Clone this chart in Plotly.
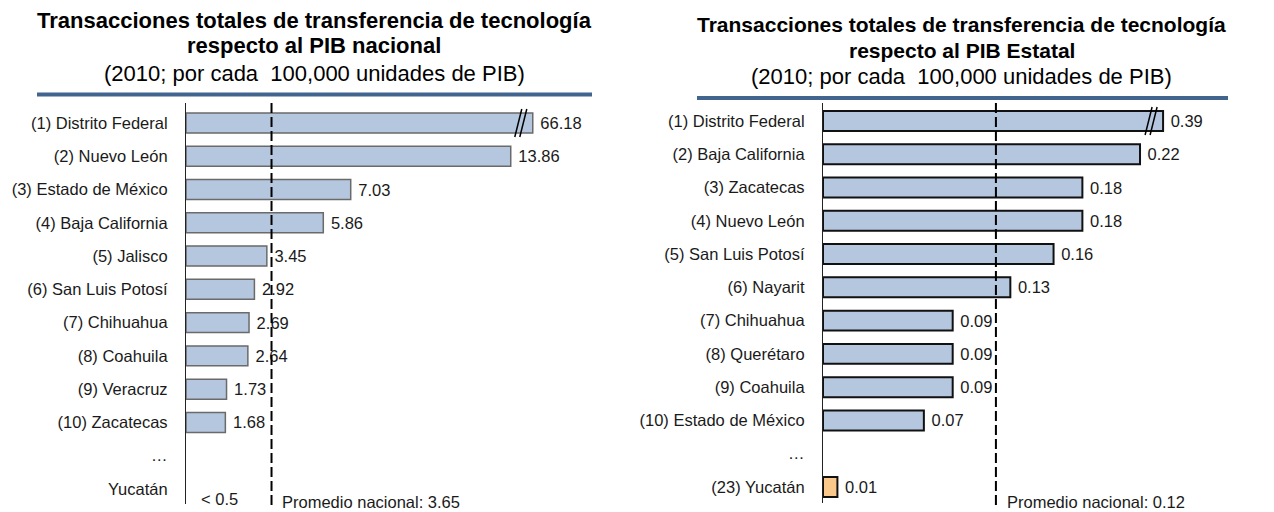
import plotly.graph_objects as go

W, H = 1274, 512

# ---- data -------------------------------------------------------------
nac_estados = ["(1) Distrito Federal", "(2) Nuevo León", "(3) Estado de México",
               "(4) Baja California", "(5) Jalisco", "(6) San Luis Potosí",
               "(7) Chihuahua", "(8) Coahuila", "(9) Veracruz", "(10) Zacatecas",
               "…", "Yucatán"]
nac_valores = [66.18, 13.86, 7.03, 5.86, 3.45, 2.92, 2.69, 2.64, 1.73, 1.68, None, None]
nac_yucatan_txt = "< 0.5"
nac_promedio = 3.65

est_estados = ["(1) Distrito Federal", "(2) Baja California", "(3) Zacatecas",
               "(4) Nuevo León", "(5) San Luis Potosí", "(6) Nayarit",
               "(7) Chihuahua", "(8) Querétaro", "(9) Coahuila",
               "(10) Estado de México", "…", "(23) Yucatán"]
est_valores = [0.39, 0.22, 0.18, 0.18, 0.16, 0.13, 0.09, 0.09, 0.09, 0.07, None, 0.01]
est_promedio = 0.12

# broken axis: values above the break are drawn up to the break point
nac_corte = 14.8
est_corte = 0.236

# ---- styling ----------------------------------------------------------
FONT = "Liberation Sans, Arial, sans-serif"
AZUL = "#b4c7de"
NARANJA = "#f9c88a"
RAYA = "#41658f"
TXT = "#1a1a1a"


def px(x):
    return x / W


def py(y):
    return 1 - y / H


def trunc(vals, corte):
    return [None if v is None else min(v, corte) for v in vals]


def etiquetas(vals):
    # a non-breaking space keeps a small gap between bar end and value
    return ["" if v is None else "\u00a0" + f"{v:.2f}" for v in vals]


fig = go.Figure()

fig.add_trace(go.Bar(
    y=nac_estados, x=trunc(nac_valores, nac_corte), orientation="h",
    xaxis="x", yaxis="y",
    marker=dict(color=AZUL, line=dict(color="#6a6a6a", width=1.5)),
    width=0.6,
    text=etiquetas(nac_valores), textposition="outside", cliponaxis=False,
    constraintext="none",
    textfont=dict(family=FONT, size=16.5, color=TXT),
    hoverinfo="skip",
))

est_colores = [NARANJA if "Yucatán" in e else AZUL for e in est_estados]
fig.add_trace(go.Bar(
    y=est_estados, x=trunc(est_valores, est_corte), orientation="h",
    xaxis="x2", yaxis="y2",
    marker=dict(color=est_colores, line=dict(color="#111111", width=2)),
    width=0.6,
    text=etiquetas(est_valores), textposition="outside", cliponaxis=False,
    constraintext="none",
    textfont=dict(family=FONT, size=16.5, color=TXT),
    hoverinfo="skip",
))

# ---- axes ----------------------------------------------------------------
PPU_NAC = 23.43   # px per unit (left)
PPU_EST = 1441.0  # px per unit (right)
X0_NAC, X1_NAC = 186, 600
X0_EST, X1_EST = 823, 1250
ROW = 33.27


def yrange(top, bottom, first):
    return [(bottom - first) / ROW, (top - first) / ROW]


fig.update_layout(
    width=W, height=H,
    margin=dict(l=0, r=0, t=0, b=0),
    paper_bgcolor="white", plot_bgcolor="white",
    showlegend=False,
    bargap=0.4,
    xaxis=dict(domain=[px(X0_NAC), px(X1_NAC)],
               range=[0, (X1_NAC - X0_NAC) / PPU_NAC],
               visible=False, fixedrange=True),
    yaxis=dict(domain=[py(504), py(103)], anchor="x",
               range=yrange(103, 504, 123),
               type="category", categoryorder="array", categoryarray=nac_estados,
               showline=True, linecolor="#222222", linewidth=1.2,
               showgrid=False, ticks="", ticklabelstandoff=14,
               tickfont=dict(family=FONT, size=16.5, color=TXT)),
    xaxis2=dict(domain=[px(X0_EST), px(X1_EST)],
                range=[0, (X1_EST - X0_EST) / PPU_EST],
                visible=False, fixedrange=True),
    yaxis2=dict(domain=[py(503), py(103)], anchor="x2",
                range=yrange(103, 503, 121),
                type="category", categoryorder="array", categoryarray=est_estados,
                showline=True, linecolor="#222222", linewidth=1.2,
                showgrid=False, ticks="", ticklabelstandoff=14,
                tickfont=dict(family=FONT, size=16.5, color=TXT)),
)

shapes = []
# national-average dashed lines
shapes.append(dict(type="line", xref="x", yref="paper",
                   x0=nac_promedio, x1=nac_promedio, y0=py(505), y1=py(103),
                   line=dict(color="black", width=2, dash="10px,4px")))
shapes.append(dict(type="line", xref="x2", yref="paper",
                   x0=est_promedio, x1=est_promedio, y0=py(505), y1=py(103),
                   line=dict(color="black", width=2, dash="10px,4px")))

# axis-break marks on the first bar of each panel
def marcas(xref, yref, corte, ppu):
    out = []
    for off in (18, 13):
        xa = corte - off / ppu
        xb = corte - (off - 7) / ppu
        out.append(dict(type="line", xref=xref, yref=yref,
                        x0=xa, y0=0.42, x1=xb, y1=-0.42,
                        line=dict(color="black", width=1.5)))
    return out


shapes += marcas("x", "y", nac_corte, PPU_NAC)
shapes += marcas("x2", "y2", est_corte, PPU_EST)

# title rules
shapes.append(dict(type="line", xref="paper", yref="paper",
                   x0=px(37), x1=px(592), y0=py(94.5), y1=py(94.5),
                   line=dict(color=RAYA, width=4)))
shapes.append(dict(type="line", xref="paper", yref="paper",
                   x0=px(697), x1=px(1228), y0=py(98), y1=py(98),
                   line=dict(color=RAYA, width=4)))
fig.update_layout(shapes=shapes)

ann = []


def texto(x, y, t, size, bold=False, anchor="center"):
    ann.append(dict(xref="paper", yref="paper", x=px(x), y=py(y),
                    xanchor=anchor, yanchor="middle", showarrow=False,
                    text=f"<b>{t}</b>" if bold else t,
                    font=dict(family=FONT, size=size, color="black")))


texto(314, 20, "Transacciones totales de transferencia de tecnología", 22, True)
texto(314, 45, "respecto al PIB nacional", 22, True)
texto(314, 73, "(2010; por cada  100,000 unidades de PIB)", 22)

texto(962, 24, "Transacciones totales de transferencia de tecnología", 21, True)
texto(962, 50, "respecto al PIB Estatal", 21, True)
texto(962, 76, "(2010; por cada  100,000 unidades de PIB)", 22)

# average labels
ann.append(dict(xref="x", yref="paper", x=nac_promedio, y=py(502),
                xanchor="left", yanchor="middle", xshift=8, showarrow=False,
                text=f"Promedio nacional: {nac_promedio:.2f}",
                font=dict(family=FONT, size=16.5, color=TXT)))
ann.append(dict(xref="x2", yref="paper", x=est_promedio, y=py(502),
                xanchor="left", yanchor="middle", xshift=9, showarrow=False,
                text=f"Promedio nacional: {est_promedio:.2f}",
                font=dict(family=FONT, size=16.5, color=TXT)))

# Yucatán note in the national panel
ann.append(dict(xref="x", yref="y", x=1.45, y="Yucatán", yshift=-10,
                xanchor="center", yanchor="middle", showarrow=False,
                text=nac_yucatan_txt,
                font=dict(family=FONT, size=16.5, color=TXT)))

fig.update_layout(annotations=ann)

fig.write_html("out.html")
